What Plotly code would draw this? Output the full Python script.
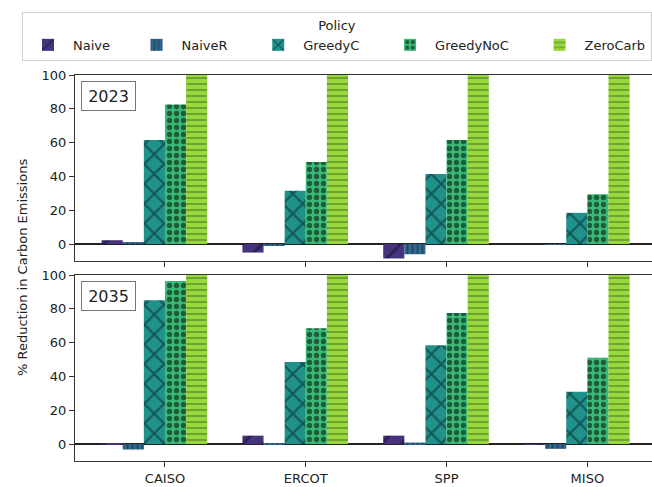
import plotly.graph_objects as go

regions = ["CAISO", "ERCOT", "SPP", "MISO"]
policies = ["Naive", "NaiveR", "GreedyC", "GreedyNoC", "ZeroCarb"]

# % reduction in carbon emissions per region, one list per policy
reduction_2023 = {
    "Naive":     [2.3, -5.0, -8.5, 0.0],
    "NaiveR":    [1.2, -1.0, -6.0, -0.5],
    "GreedyC":   [61.5, 31.5, 41.5, 18.5],
    "GreedyNoC": [82.5, 48.5, 61.5, 29.5],
    "ZeroCarb":  [100, 100, 100, 100],
}
reduction_2035 = {
    "Naive":     [0.3, 5.0, 5.0, -0.3],
    "NaiveR":    [-3.2, 0.3, 0.9, -2.8],
    "GreedyC":   [85.0, 48.5, 58.5, 31.0],
    "GreedyNoC": [96.5, 68.5, 77.5, 51.0],
    "ZeroCarb":  [100, 100, 100, 100],
}
years = ["2023", "2035"]
y_ticks = [0, 20, 40, 60, 80, 100]

colors = {
    "Naive": "#46337e",
    "NaiveR": "#31688e",
    "GreedyC": "#21918c",
    "GreedyNoC": "#3aba76",
    "ZeroCarb": "#97d83f",
}
hatch_color = {
    "Naive": "#120c24",
    "NaiveR": "#10263a",
    "GreedyC": "#041f1e",
    "GreedyNoC": "#000000",
    "ZeroCarb": "#4b6b1e",
}
patterns = {
    "Naive": dict(shape="/", size=14, solidity=0.2),
    "NaiveR": dict(shape="|", size=5, solidity=0.35),
    "GreedyC": dict(shape="x", size=14, solidity=0.28),
    "GreedyNoC": dict(shape=".", size=7, solidity=0.45),
    "ZeroCarb": dict(shape="-", size=6, solidity=0.33),
}

# extra room after each legend label (non-breaking spaces keep entries apart)
legend_pad = {"Naive": 4, "NaiveR": 5, "GreedyC": 5, "GreedyNoC": 5, "ZeroCarb": 0}

bar_w = 0.15
fig = go.Figure()

for row, (year, data) in enumerate(zip(years, [reduction_2023, reduction_2035])):
    ax = "" if row == 0 else "2"
    for k, p in enumerate(policies):
        fig.add_trace(go.Bar(
            x=regions, y=data[p], name=p + "\u00a0" * legend_pad[p],
            legendgroup=p, showlegend=(row == 0),
            width=bar_w, offset=(k - 3) * bar_w,
            marker=dict(color=colors[p], line=dict(width=0),
                        pattern=dict(fgcolor=hatch_color[p], **patterns[p])),
            xaxis="x" + ax, yaxis="y" + ax,
        ))

H = 386.0
top_dom = [1 - 186 / H, 1]
bot_dom = [0, 186 / H]
x_range = [-0.639, 3.459]

axis_line = dict(showline=True, linecolor="#333", linewidth=1)
tick_font = dict(family="DejaVu Sans", size=13, color="#222")

xcommon = dict(range=x_range, type="category", ticks="outside", ticklen=5,
               tickcolor="#333", mirror=True, showgrid=False, zeroline=False,
               tickfont=tick_font, **axis_line)
ycommon = dict(range=[-10, 100], tickvals=y_ticks, ticks="outside", ticklen=5,
               tickcolor="#333", showgrid=False, zeroline=True,
               zerolinecolor="#222", zerolinewidth=2, tickfont=tick_font,
               **axis_line)

fig.update_layout(
    width=652, height=487,
    margin=dict(l=75, r=0, t=75, b=26, autoexpand=False),
    plot_bgcolor="white", paper_bgcolor="white",
    barmode="overlay",
    xaxis=dict(domain=[0, 1], anchor="y", showticklabels=False, **xcommon),
    yaxis=dict(domain=top_dom, anchor="x", **ycommon),
    xaxis2=dict(domain=[0, 1], anchor="y2", **xcommon),
    yaxis2=dict(domain=bot_dom, anchor="x2", **ycommon),
    font=dict(family="DejaVu Sans", size=13, color="#222"),
    legend=dict(
        orientation="h", x=(22 - 75) / 577, y=1 + (75 - 12) / H,
        xanchor="left", yanchor="top",
        title=dict(text="Policy", side="top center",
                   font=dict(family="DejaVu Sans", size=13, color="#222")),
        font=dict(family="DejaVu Sans", size=13, color="#222"),
        bordercolor="#d0d0d0", borderwidth=1, itemwidth=40,
        traceorder="normal",
    ),
)

# year labels in boxes, top-left of each panel
for year, yref in zip(years, ["y domain", "y2 domain"]):
    fig.add_annotation(
        text=year, xref="x domain", yref=yref, x=6 / 577, y=1 - 6 / 186,
        xanchor="left", yanchor="top", showarrow=False,
        font=dict(family="DejaVu Sans", size=16, color="#222"),
        bordercolor="#777", borderwidth=1, borderpad=4, width=45, height=20,
        bgcolor="white",
    )

fig.add_annotation(
    text="% Reduction in Carbon Emissions", xref="paper", yref="paper",
    x=(22 - 75) / 577, y=(461 - 268) / H, textangle=-90, showarrow=False,
    xanchor="center", yanchor="middle",
    font=dict(family="DejaVu Sans", size=13, color="#222"),
)

fig.write_html("out.html")
